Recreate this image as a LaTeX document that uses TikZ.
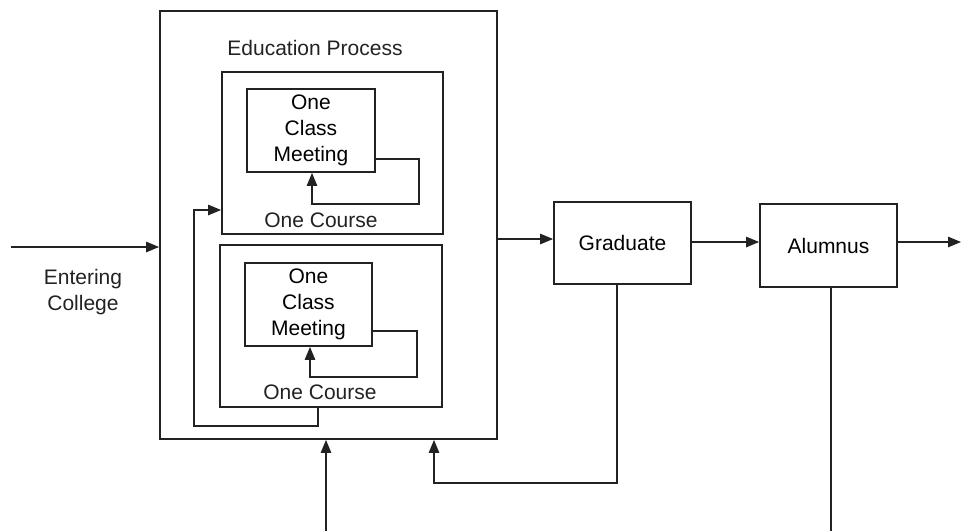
\documentclass[tikz,border=0pt]{standalone}
\usepackage{fontspec}
\setmainfont{Liberation Sans}
\usetikzlibrary{arrows.meta}
\definecolor{ink}{HTML}{222222}
\begin{document}
\begin{tikzpicture}[x=1pt,y=-1pt,
  font=\fontsize{21}{26}\selectfont,
  box/.style={draw=ink,line width=1.8pt,inner sep=0pt,align=center},
  lbl/.style={text=ink,inner sep=0pt,align=center},
  conn/.style={draw=ink,line width=1.2pt},
  arr/.style={conn,-{Triangle[length=13pt,width=10.5pt]}}]
\useasboundingbox (0,0) rectangle (962,531);

% containers and blocks
\node[box,minimum width=337pt,minimum height=428pt] (big) at (328.5,225) {};
\node[box,minimum width=221pt,minimum height=162pt] (course1) at (332.5,153) {};
\node[box,minimum width=128pt,minimum height=83pt] (meet1) at (311,130.5) {One\\Class\\Meeting};
\node[box,minimum width=222pt,minimum height=162pt] (course2) at (331,326) {};
\node[box,minimum width=127pt,minimum height=83pt] (meet2) at (308.5,304.5) {One\\Class\\Meeting};
\node[box,minimum width=137pt,minimum height=82pt] (grad) at (622.5,243) {Graduate};
\node[box,minimum width=137pt,minimum height=83pt] (alum) at (828.5,245.5) {Alumnus};

% labels
\node[lbl] (edu) at (315,48) {Education Process};
\node[lbl] (oc1) at (321,220) {One Course};
\node[lbl] (oc2) at (320,392) {One Course};
\node[lbl] (enter) at (83,292) {Entering\\College};

% free ends
\coordinate (inL) at (11,247);
\coordinate (outR) at (961,242);
\coordinate (botA) at (326,531);
\coordinate (botB) at (831,531);

% main flow
\draw[arr] (inL) -- (inL -| big.west);
\draw[arr] (big.east |- 0,239) -- (grad.west |- 0,239);
\draw[arr] (grad.east |- 0,242) -- (alum.west |- 0,242);
\draw[arr] (alum.east |- outR) -- (outR);

% class-meeting loops
\draw[arr] (meet1.east |- 0,159) -- (419,159) -- (419,204) -- (312,204) -- (meet1.south -| 312,0);
\draw[arr] (meet2.east |- 0,331) -- (417,331) -- (417,377) -- (310,377) -- (meet2.south -| 310,0);

% course repetition loop
\draw[arr] (course2.south -| 318,0) -- (318,426) -- (194,426) -- (194,210) -- (course1.west |- 0,210);

% inputs from below
\draw[arr] (botA) -- (botA |- big.south);
\draw[arr] (grad.south -| 617,0) -- (617,483) -- (434,483) -- (big.south -| 434,0);
\draw[conn] (alum.south -| botB) -- (botB);
\end{tikzpicture}
\end{document}
